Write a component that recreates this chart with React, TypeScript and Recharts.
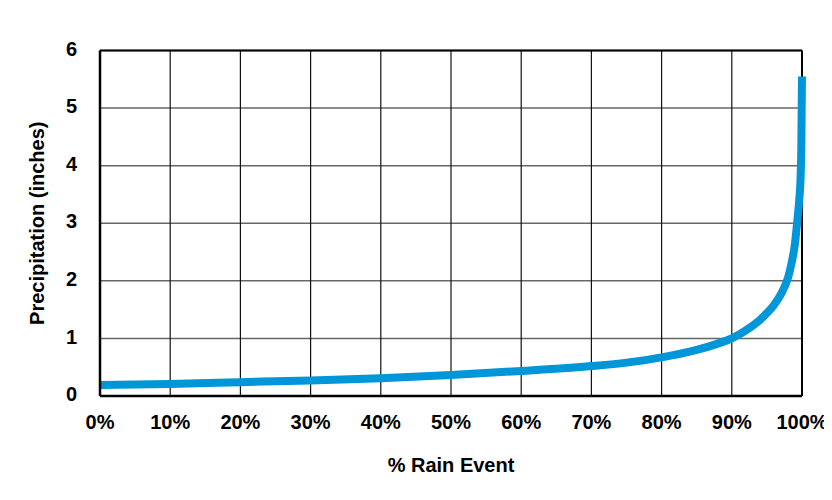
import React from "react"
import { CartesianGrid, Line, LineChart, ReferenceLine, XAxis, YAxis } from "recharts"

// % of rain events (x) vs precipitation depth in inches (y)
const pct = [0, 10, 20, 30, 40, 50, 60, 70, 75, 80, 85, 88, 90, 92, 94, 95, 96, 97, 98, 98.5, 99, 99.3, 99.6, 99.8, 99.9, 100]
const precip = [0.19, 0.21, 0.24, 0.27, 0.31, 0.365, 0.435, 0.52, 0.58, 0.67, 0.8, 0.91, 1.0, 1.14, 1.32, 1.44, 1.58, 1.77, 2.05, 2.3, 2.65, 3.0, 3.4, 3.8, 4.3, 5.55]
const xTicks = [0, 10, 20, 30, 40, 50, 60, 70, 80, 90, 100]
const yTicks = [0, 1, 2, 3, 4, 5, 6]

const data = pct.map((p, i) => ({ pct: p, precip: precip[i] }))

const font = "'Liberation Sans', Arial, sans-serif"
const tickStyle = { fill: "#000", fontSize: 20, fontWeight: 700, fontFamily: font }

export default function App() {
  return (
    <div style={{ margin: -8, width: 832, height: 500, background: "#e0f0fb", position: "relative" }}>
      <div style={{ position: "absolute", left: 8, top: 5, width: 824, height: 495, background: "#fff" }}>
        <LineChart width={824} height={495} data={data} margin={{ top: 45.5, right: 30, bottom: 0, left: 0 }}>
          <CartesianGrid vertical={false} stroke="#666" strokeWidth={1.5} />
          <CartesianGrid horizontal={false} stroke="#111" strokeWidth={1.2} />
          <XAxis
            dataKey="pct"
            type="number"
            domain={[0, 100]}
            ticks={xTicks}
            tickFormatter={(v) => `${v}%`}
            height={104}
            tickLine={false}
            tickSize={0}
            tickMargin={19}
            axisLine={{ stroke: "#000", strokeWidth: 2.5 }}
            tick={tickStyle}
            interval={0}
            label={{ value: "% Rain Event", position: "insideBottom", offset: 28, style: tickStyle }}
          />
          <YAxis
            type="number"
            domain={[0, 6]}
            ticks={yTicks}
            width={92}
            tickLine={false}
            tickSize={0}
            tickMargin={23}
            axisLine={{ stroke: "#000", strokeWidth: 2.5 }}
            tick={{ ...tickStyle, dy: -2 }}
            interval={0}
            label={{
              value: "Precipitation (inches)",
              angle: -90,
              position: "insideLeft",
              offset: 28.5,
              style: { ...tickStyle, textAnchor: "middle" },
            }}
          />
          <ReferenceLine y={6} stroke="#000" strokeWidth={2} />
          <ReferenceLine x={100} stroke="#000" strokeWidth={2} />
          <Line
            type="monotone"
            dataKey="precip"
            stroke="#0096d8"
            strokeWidth={8}
            dot={false}
            activeDot={false}
            isAnimationActive={false}
          />
        </LineChart>
      </div>
    </div>
  )
}
